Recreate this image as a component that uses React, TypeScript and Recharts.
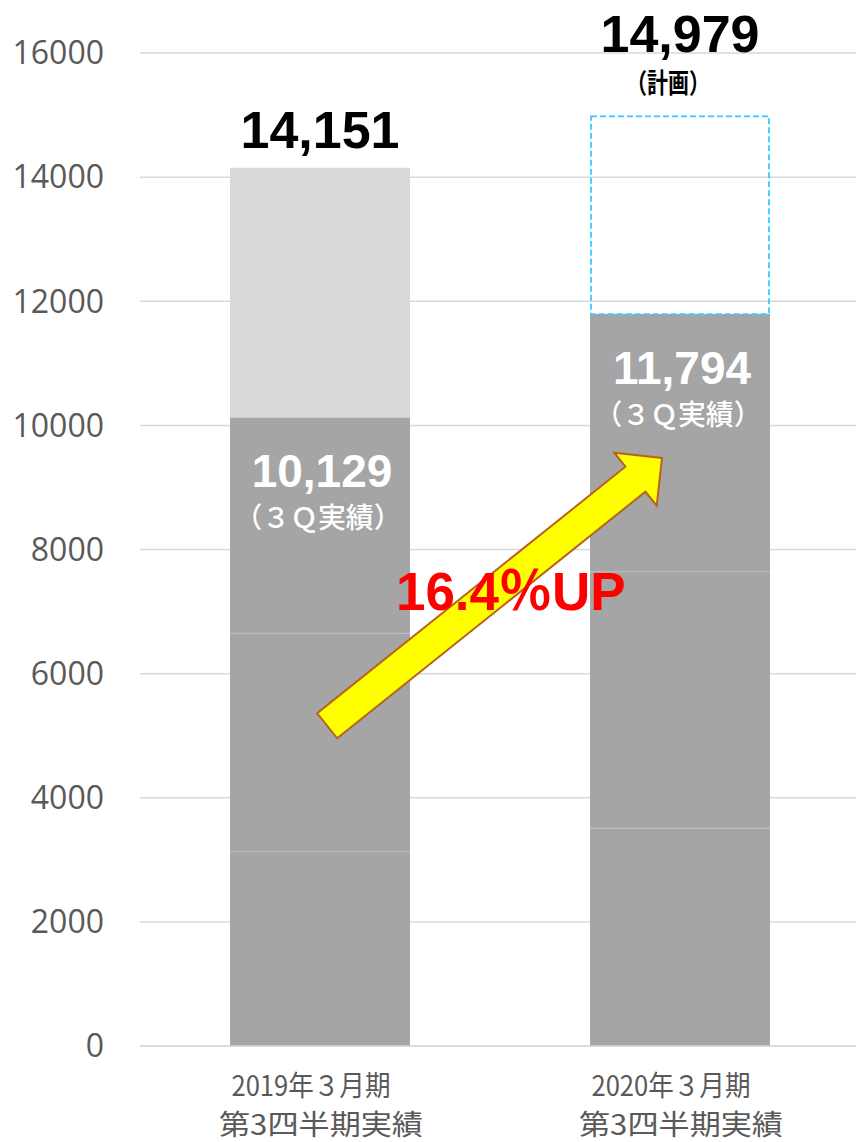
import { Bar, BarChart, CartesianGrid, XAxis, YAxis } from "recharts";

// categories and stacked values (three quarters of actual results + rest of the year)
const categories = ["2019年３月期\n第3四半期実績", "2020年３月期\n第3四半期実績"];
const firstPart = [3130, 3510];
const secondPart = [3520, 4130];
const thirdPart = [3479, 4154];
const restOfYear = [4022, 3185];
const q3Actual = [10129, 11794];
const fullYear = [14151, 14979];
const yTicks = [0, 2000, 4000, 6000, 8000, 10000, 12000, 14000, 16000];

const data = categories.map((name, i) => ({
  name,
  s1: firstPart[i],
  s2: secondPart[i],
  s3: thirdPart[i],
  rest: restOfYear[i],
  actual: q3Actual[i],
  total: fullYear[i],
}));

// annotation arrow, in (category position, value) terms
const ARROW_FROM = { pos: 0.02, value: 5160 };
const ARROW_TO = { pos: 0.95, value: 9475 };
const GROWTH_LABEL = "16.4％UP";

const W = 860;
const H = 1142;
const TOP = 53;
const LEFT = 140;
const X_AXIS_H = 96;
const Y_MAX = 16000;
const PLOT_W = W - LEFT;
const PLOT_H = H - TOP - X_AXIS_H;

const xOf = (pos: number) => LEFT + (pos + 0.5) * (PLOT_W / categories.length);
const yOf = (v: number) => TOP + ((Y_MAX - v) / Y_MAX) * PLOT_H;

const NUM_FONT = "'Liberation Sans', Arial, 'Noto Sans CJK JP', sans-serif";
const JP_FONT = "'Noto Sans CJK JP', 'Noto Sans', sans-serif";
const DARK = "#A5A5A5";

function DarkSegment(props: any) {
  const { x, y, width, height } = props;
  return (
    <g>
      <rect x={x} y={y} width={width} height={height} fill={DARK} />
      <line x1={x} x2={x + width} y1={y + height} y2={y + height} stroke="#BDBDBD" strokeWidth={1} />
    </g>
  );
}

function ThirdSegment(props: any) {
  const { x, y, width, height, payload } = props;
  const cx = x + width / 2;
  return (
    <g>
      <rect x={x} y={y} width={width} height={height} fill={DARK} />
      <line x1={x} x2={x + width} y1={y + height} y2={y + height} stroke="#BDBDBD" strokeWidth={1} />
      <text x={cx + 2} y={y + 70} textAnchor="middle" fill="#fff" fontFamily={NUM_FONT} fontWeight="bold" fontSize={46}>
        {payload.actual.toLocaleString("en-US")}
      </text>
      <text
        x={cx - 2}
        y={y + 111}
        textAnchor="middle"
        fill="#fff"
        fontFamily={JP_FONT}
        fontWeight={500}
        fontSize={28}
        textLength={167}
        lengthAdjust="spacingAndGlyphs"
      >
        （３Ｑ実績）
      </text>
    </g>
  );
}

function RestSegment(props: any) {
  const { x, y, width, height, payload, index } = props;
  const cx = x + width / 2;
  const label = payload.total.toLocaleString("en-US");
  if (index === 0) {
    return (
      <g>
        <rect x={x} y={y} width={width} height={height} fill="#D9D9D9" />
        <text x={cx} y={y - 20} textAnchor="middle" fill="#000" fontFamily={NUM_FONT} fontWeight="bold" fontSize={52}>
          {label}
        </text>
      </g>
    );
  }
  return (
    <g>
      <rect
        x={x + 1}
        y={y}
        width={width - 2}
        height={height}
        fill="none"
        stroke="#33CCFF"
        strokeWidth={1.8}
        strokeDasharray="6 3"
      />
      <text x={cx} y={y - 64} textAnchor="middle" fill="#000" fontFamily={NUM_FONT} fontWeight="bold" fontSize={52}>
        {label}
      </text>
      <text
        x={cx - 12}
        y={y - 23}
        textAnchor="middle"
        fill="#000"
        fontFamily={JP_FONT}
        fontWeight="bold"
        fontSize={27}
        textLength={84}
        lengthAdjust="spacingAndGlyphs"
      >
        （計画）
      </text>
    </g>
  );
}

function CategoryTick(props: any) {
  const { x, y, payload } = props;
  const [line1, line2] = String(payload.value).split("\n");
  return (
    <g>
      <text x={x - 9} y={y + 48} textAnchor="middle" fill="#595959" fontFamily={JP_FONT} fontSize={28} textLength={159} lengthAdjust="spacingAndGlyphs">
        {line1}
      </text>
      <text x={x + 1} y={y + 87} textAnchor="middle" fill="#595959" fontFamily={JP_FONT} fontSize={28} textLength={204} lengthAdjust="spacingAndGlyphs">
        {line2}
      </text>
    </g>
  );
}

function GrowthArrow() {
  const tx = xOf(ARROW_FROM.pos);
  const ty = yOf(ARROW_FROM.value);
  const px = xOf(ARROW_TO.pos);
  const py = yOf(ARROW_TO.value);
  const len = Math.hypot(px - tx, py - ty);
  const ux = (px - tx) / len;
  const uy = (py - ty) / len;
  const nx = -uy;
  const ny = ux;
  const shaft = 16;
  const head = 34;
  const headLen = 34;
  const bx = px - ux * headLen;
  const by = py - uy * headLen;
  const pts = [
    [tx + nx * shaft, ty + ny * shaft],
    [bx + nx * shaft, by + ny * shaft],
    [bx + nx * head, by + ny * head],
    [px, py],
    [bx - nx * head, by - ny * head],
    [bx - nx * shaft, by - ny * shaft],
    [tx - nx * shaft, ty - ny * shaft],
  ]
    .map((p) => p.join(","))
    .join(" ");
  return (
    <svg width={W} height={H} style={{ position: "absolute", left: 0, top: 0, pointerEvents: "none" }}>
      <polygon points={pts} fill="#FFFF00" stroke="#B5651D" strokeWidth={2} strokeLinejoin="miter" />
      <text x={xOf(0.53)} y={yOf(7025)} textAnchor="middle" fill="#FF0000" fontFamily={NUM_FONT} fontWeight="bold" fontSize={53}>
        {GROWTH_LABEL}
      </text>
    </svg>
  );
}

export default function App() {
  return (
    <div style={{ position: "absolute", left: 0, top: 0, width: 856, height: H, overflow: "hidden", background: "#fff" }}>
      <BarChart width={W} height={H} data={data} margin={{ top: TOP, right: 0, left: 0, bottom: 0 }} barSize={180}>
        <CartesianGrid vertical={false} stroke="#D9D9D9" strokeWidth={1.5} />
        <XAxis
          dataKey="name"
          height={X_AXIS_H}
          axisLine={{ stroke: "#D9D9D9", strokeWidth: 1.5 }}
          tickLine={false}
          tickSize={0}
          tick={<CategoryTick />}
          interval={0}
        />
        <YAxis
          width={LEFT}
          domain={[0, Y_MAX]}
          ticks={yTicks}
          axisLine={false}
          tickLine={false}
          tickSize={0}
          tickMargin={36}
          tick={{ fill: "#595959", fontSize: 32, fontFamily: "'Open Sans', sans-serif" }}
        />
        <Bar dataKey="s1" stackId="a" fill={DARK} isAnimationActive={false} />
        <Bar dataKey="s2" stackId="a" fill={DARK} shape={<DarkSegment />} isAnimationActive={false} />
        <Bar dataKey="s3" stackId="a" fill={DARK} shape={<ThirdSegment />} isAnimationActive={false} />
        <Bar dataKey="rest" stackId="a" fill="#D9D9D9" shape={<RestSegment />} isAnimationActive={false} />
      </BarChart>
      <GrowthArrow />
    </div>
  );
}
